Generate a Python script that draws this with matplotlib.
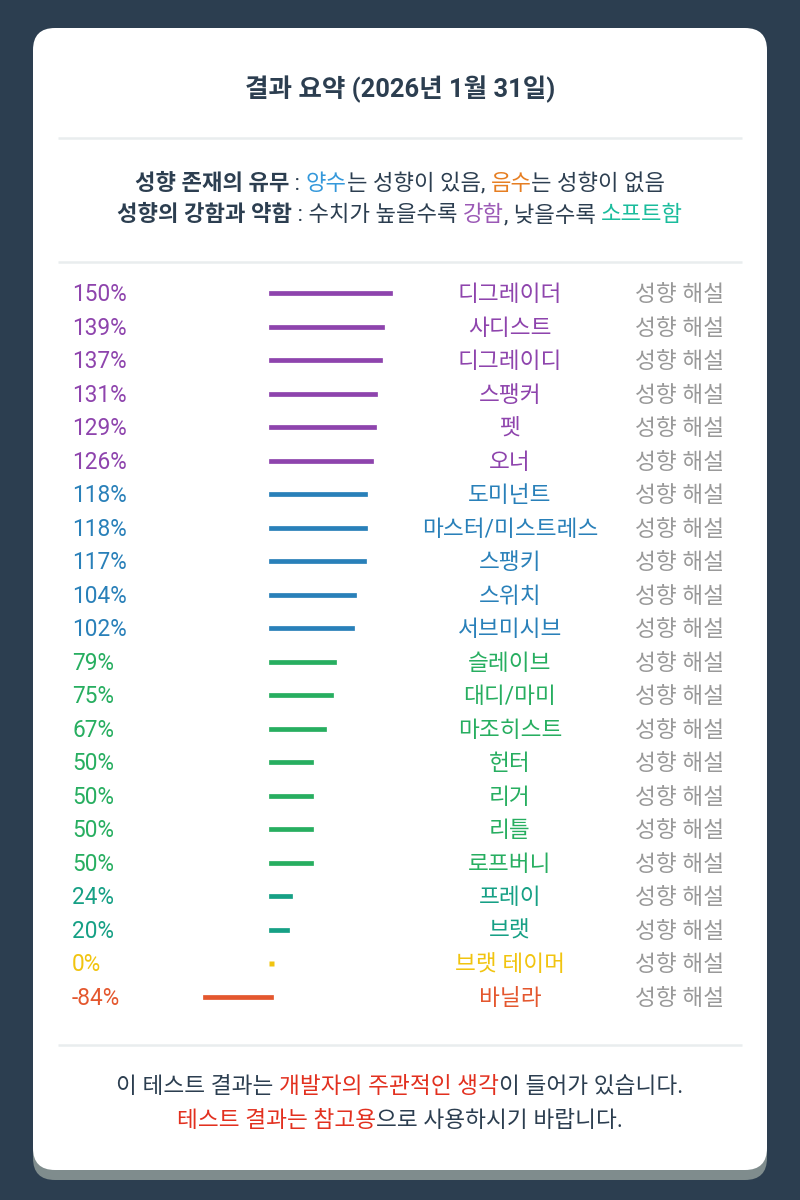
import matplotlib
matplotlib.use("Agg")
import matplotlib.pyplot as plt
from matplotlib.patches import FancyBboxPatch
import matplotlib.transforms as mtransforms

FAM = ['Roboto', 'Noto Sans CJK KR', 'DejaVu Sans']
plt.rcParams['font.family'] = FAM

# ---------------- data ----------------
names = ["디그레이더", "사디스트", "디그레이디", "스팽커", "펫", "오너",
         "도미넌트", "마스터/미스트레스", "스팽키", "스위치", "서브미시브",
         "슬레이브", "대디/마미", "마조히스트", "헌터", "리거", "리틀", "로프버니",
         "프레이", "브랫", "브랫 테이머", "바닐라"]
values = [150, 139, 137, 131, 129, 126,
          118, 118, 117, 104, 102,
          79, 75, 67, 50, 50, 50, 50,
          24, 20, 0, -84]
detail_label = "성향 해설"
title = "결과 요약 (2026년 1월 31일)"

DARK = "#2c3e50"


def color_for(v):
    if v >= 120:
        return "#8e44ad"
    if v >= 100:
        return "#2980b9"
    if v >= 50:
        return "#27ae60"
    if v > 0:
        return "#16a085"
    if v == 0:
        return "#f1c40f"
    return "#e4572e"


# ---------------- figure ----------------
W, H = 800, 1200
fig = plt.figure(figsize=(W / 100, H / 100), dpi=100)
fig.patch.set_facecolor("#2c3e50")

bg = fig.add_axes([0, 0, 1, 1])
bg.set_xlim(0, W)
bg.set_ylim(H, 0)
bg.axis("off")

# card shadow + card
shadow = FancyBboxPatch((33, 38), 734, 1142,
                        boxstyle="round,pad=0,rounding_size=22",
                        fc="#7f8c8d", ec="none", zorder=1)
card = FancyBboxPatch((33, 28), 734, 1142,
                      boxstyle="round,pad=0,rounding_size=22",
                      fc="white", ec="none", zorder=2)
bg.add_patch(shadow)
bg.add_patch(card)

for yy in (138, 262, 1045):
    bg.plot([58, 742], [yy, yy], color="#e9edee", lw=1.8, zorder=3,
            solid_capstyle="butt")

renderer = fig.canvas.get_renderer()


def text_width(s, size, weight):
    t = bg.text(0, 0, s, fontsize=size, fontweight=weight, family=FAM)
    w = t.get_window_extent(renderer).width
    t.remove()
    return w


def rich_line(y_base, segs, size, cx=400):
    advs = []
    for s, c, wt in segs:
        advs.append(text_width("|" + s + "|", size, wt) - text_width("||", size, wt))
    total = sum(advs)
    x = cx - total / 2
    for (s, c, wt), a in zip(segs, advs):
        bg.text(x, y_base, s, ha="left", va="baseline", fontsize=size,
                fontweight=wt, color=c, family=FAM, zorder=5)
        x += a


# title
bg.text(400, 97, title, ha="center", va="baseline", fontsize=18.4,
        fontweight="bold", color=DARK, zorder=5)

# header
rich_line(190, [("성향 존재의 유무", DARK, "bold"),
                (" : ", DARK, "normal"),
                ("양수", "#3498db", "normal"),
                ("는 성향이 있음, ", DARK, "normal"),
                ("음수", "#e67e22", "normal"),
                ("는 성향이 없음", DARK, "normal")], 16.0)
rich_line(221, [("성향의 강함과 약함", DARK, "bold"),
                (" : 수치가 높을수록 ", DARK, "normal"),
                ("강함", "#9b59b6", "normal"),
                (", 낮을수록 ", DARK, "normal"),
                ("소프트함", "#1abc9c", "normal")], 16.0)

# footer
RED = "#e2301f"
rich_line(1093, [("이 테스트 결과는 ", DARK, "normal"),
                 ("개발자의 주관적인 생각", RED, "normal"),
                 ("이 들어가 있습니다.", DARK, "normal")], 16.3)
rich_line(1127, [("테스트 결과는 참고용", RED, "normal"),
                 ("으로 사용하시기 바랍니다.", DARK, "normal")], 16.3)

# ---------------- bars ----------------
n = len(values)
row0, row_step = 293.0, 33.52
ax_left_px, ax_right_px = 150.0, 450.0
zero_px, px_per_pct = 271.3, 0.793
top_px = row0 - row_step * 0.5
bot_px = row0 + row_step * (n - 0.5)
ax = fig.add_axes([ax_left_px / W, 1 - bot_px / H,
                   (ax_right_px - ax_left_px) / W, (bot_px - top_px) / H])
ax.set_xlim((ax_left_px - zero_px) / px_per_pct, (ax_right_px - zero_px) / px_per_pct)
ax.set_ylim(n - 0.5, -0.5)
ax.axis("off")
ax.patch.set_alpha(0)
ax.set_zorder(6)

for i, v in enumerate(values):
    if v == 0:
        ax.plot([0], [i], color=color_for(v), marker="s", ms=3.6,
                mec="none", ls="none")
    else:
        ax.plot([0, v], [i, i], color=color_for(v), lw=3.4,
                solid_capstyle="projecting")

trans = mtransforms.blended_transform_factory(bg.transData, ax.transData)
trans_txt = mtransforms.offset_copy(trans, fig=fig, y=-8, units="dots")
ROW_FS = 16.3
for i, (nm, v) in enumerate(zip(names, values)):
    c = color_for(v)
    ax.text(72, i, f"{v}%", transform=trans_txt, ha="left", va="baseline",
            fontsize=ROW_FS, color=c)
    ax.text(510, i, nm, transform=trans_txt, ha="center", va="baseline",
            fontsize=ROW_FS, color=c)
    ax.text(635, i, detail_label, transform=trans_txt, ha="left",
            va="baseline", fontsize=ROW_FS, color="#999999")

fig.savefig("out.png", dpi=100, facecolor=fig.get_facecolor())
